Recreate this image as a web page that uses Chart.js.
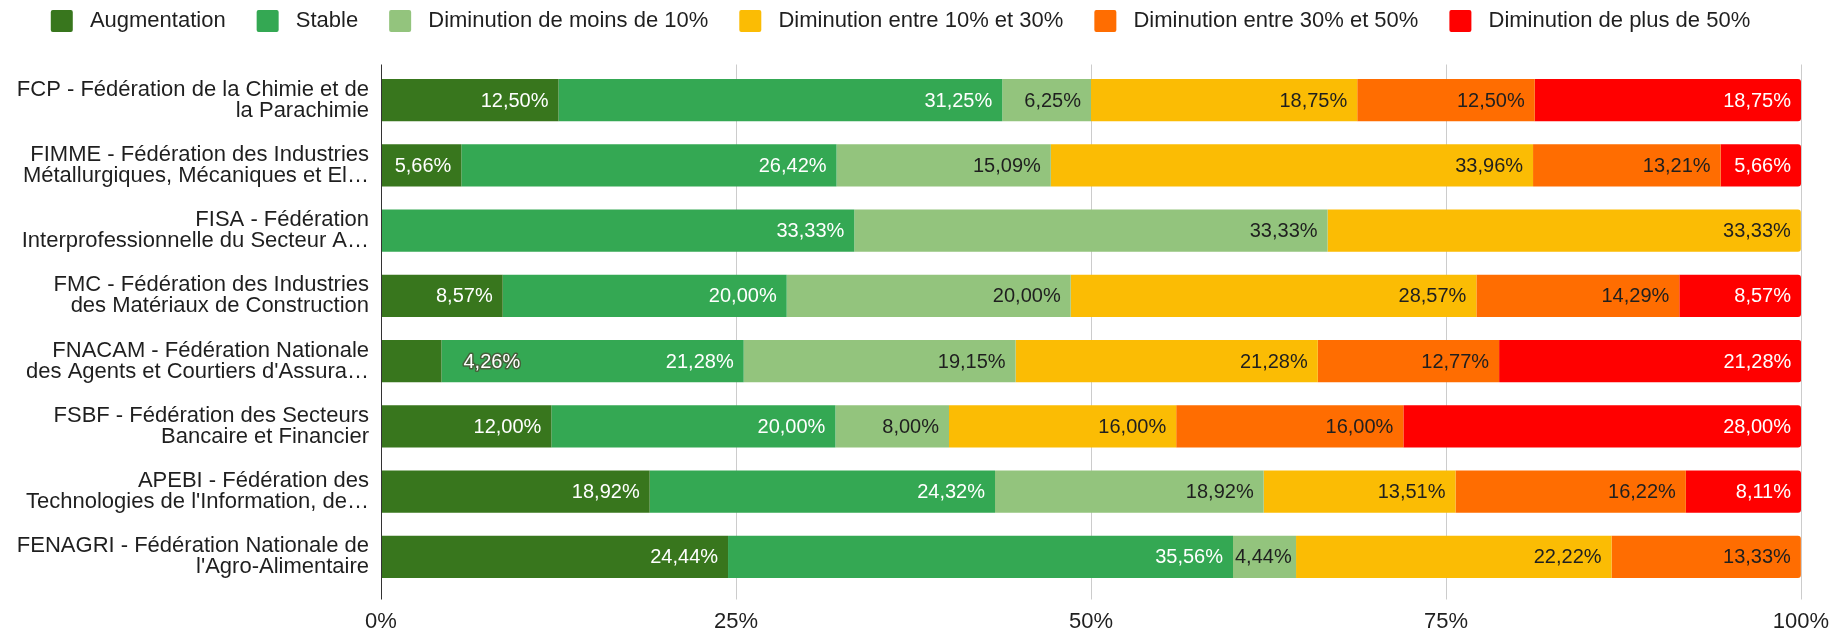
<!DOCTYPE html>
<html>
<head>
<meta charset="utf-8">
<script src="https://cdn.jsdelivr.net/npm/chart.js@4.4.1/dist/chart.umd.min.js"></script>
<style>
html,body{margin:0;padding:0;background:#fff;}
#wrap{width:1833px;height:630px;}
</style>
</head>
<body>
<div id="wrap"><canvas id="c" width="1833" height="630"></canvas></div>
<script>
const categories = [
  ["FCP - Fédération de la Chimie et de", "la Parachimie"],
  ["FIMME - Fédération des Industries", "Métallurgiques, Mécaniques et El…"],
  ["FISA - Fédération", "Interprofessionnelle du Secteur A…"],
  ["FMC - Fédération des Industries", "des Matériaux de Construction"],
  ["FNACAM - Fédération Nationale", "des Agents et Courtiers d'Assura…"],
  ["FSBF - Fédération des Secteurs", "Bancaire et Financier"],
  ["APEBI - Fédération des", "Technologies de l'Information, de…"],
  ["FENAGRI - Fédération Nationale de", "l'Agro-Alimentaire"]
];
const seriesNames = [
  "Augmentation", "Stable", "Diminution de moins de 10%",
  "Diminution entre 10% et 30%", "Diminution entre 30% et 50%", "Diminution de plus de 50%"
];
const augmentation = [12.50, 5.66, 0, 8.57, 4.26, 12.00, 18.92, 24.44];
const stable       = [31.25, 26.42, 33.33, 20.00, 21.28, 20.00, 24.32, 35.56];
const dimMoins10   = [6.25, 15.09, 33.33, 20.00, 19.15, 8.00, 18.92, 4.44];
const dim10a30     = [18.75, 33.96, 33.33, 28.57, 21.28, 16.00, 13.51, 22.22];
const dim30a50     = [12.50, 13.21, 0, 14.29, 12.77, 16.00, 16.22, 13.33];
const dimPlus50    = [18.75, 5.66, 0, 8.57, 21.28, 28.00, 8.11, 0];
const xTicks = ["0%", "25%", "50%", "75%", "100%"];

const colors = ["#38761d", "#34a853", "#93c47d", "#fbbc04", "#ff6d01", "#ff0000"];
const labelColors = ["#ffffff", "#ffffff", "#1f1f1f", "#1f1f1f", "#1f1f1f", "#ffffff"];
const allSeries = [augmentation, stable, dimMoins10, dim10a30, dim30a50, dimPlus50];

const FONT = "'Liberation Sans', Arial, sans-serif";

function lastIndexFor(i) {
  let last = -1;
  allSeries.forEach((s, k) => { if (s[i] > 0) last = k; });
  return last;
}

const datasets = allSeries.map((vals, k) => ({
  label: seriesNames[k],
  data: vals,
  backgroundColor: colors[k],
  borderWidth: 0,
  borderSkipped: false,
  borderRadius: (ctx) => {
    const i = ctx.dataIndex;
    if (i === undefined) return 0;
    return lastIndexFor(i) === k ? {topLeft:0,bottomLeft:0,topRight:3,bottomRight:3} : 0;
  },
  barPercentage: 0.65,
  categoryPercentage: 1.0
}));

const fmt = (v) => v.toFixed(2).replace('.', ',') + '%';

const gridPlugin = {
  id: 'extGrid',
  beforeDatasetsDraw(chart) {
    const {ctx, chartArea} = chart;
    const xs = chart.scales.x;
    ctx.save();
    ctx.lineWidth = 1;
    ctx.strokeStyle = '#cccccc';
    [25, 50, 75, 100].forEach(v => {
      const px = Math.round(xs.getPixelForValue(v)) + 0.5;
      ctx.beginPath();
      ctx.moveTo(px, chartArea.top - 3);
      ctx.lineTo(px, chartArea.bottom + 10);
      ctx.stroke();
    });
    ctx.restore();
  },
  afterDatasetsDraw(chart) {
    const {ctx, chartArea} = chart;
    const xs = chart.scales.x;
    const px = Math.round(xs.getPixelForValue(0)) + 0.5;
    ctx.save();
    ctx.lineWidth = 1;
    ctx.strokeStyle = '#333333';
    ctx.beginPath();
    ctx.moveTo(px, chartArea.top - 3);
    ctx.lineTo(px, chartArea.bottom + 10);
    ctx.stroke();
    ctx.restore();
  }
};

const labelPlugin = {
  id: 'barLabels',
  afterDatasetsDraw(chart) {
    const ctx = chart.ctx;
    ctx.save();
    ctx.font = "20px " + FONT;
    ctx.textBaseline = 'middle';
    chart.data.datasets.forEach((ds, k) => {
      const meta = chart.getDatasetMeta(k);
      meta.data.forEach((bar, i) => {
        const v = ds.data[i];
        if (!v) return;
        const txt = fmt(v);
        const w = ctx.measureText(txt).width;
        const barW = bar.x - bar.base;
        if (w + 4 > barW) {
          ctx.textAlign = 'left';
          ctx.lineWidth = 3;
          ctx.strokeStyle = '#44603a';
          ctx.lineJoin = 'round';
          ctx.strokeText(txt, bar.x + 22, bar.y + 1);
          ctx.fillStyle = '#ffffff';
          ctx.fillText(txt, bar.x + 22, bar.y + 1);
        } else {
          const pad = Math.min(10, barW - w - 2);
          ctx.textAlign = 'right';
          ctx.fillStyle = labelColors[k];
          ctx.fillText(txt, bar.x - pad, bar.y + 1);
        }
      });
    });
    ctx.restore();
  }
};

const legendHeight = {
  id: 'legendHeight',
  beforeInit(chart) {
    const orig = chart.legend.fit;
    chart.legend.fit = function () { orig.call(this); this.height = 88.5; };
  }
};

new Chart(document.getElementById('c'), {
  type: 'bar',
  data: { labels: categories, datasets },
  options: {
    indexAxis: 'y',
    responsive: false,
    animation: false,
    devicePixelRatio: 1,
    layout: { padding: { left: 0, right: 32, top: -21, bottom: 0 } },
    plugins: {
      legend: {
        position: 'top',
        align: 'center',
        labels: {
          font: { family: FONT, size: 22 },
          color: '#1f1f1f',
          boxWidth: 22,
          boxHeight: 22,
          useBorderRadius: true,
          borderRadius: 2,
          padding: 31,
          generateLabels: (chart) => {
            const items = Chart.defaults.plugins.legend.labels.generateLabels(chart);
            items.forEach(it => { it.text = ' ' + it.text; it.lineWidth = 0; });
            return items;
          }
        }
      },
      tooltip: { enabled: false }
    },
    scales: {
      x: {
        stacked: true,
        min: 0, max: 100,
        ticks: {
          stepSize: 25,
          callback: (v, idx) => xTicks[idx],
          font: { family: FONT, size: 22 },
          color: '#1f1f1f',
          padding: 19,
          maxRotation: 0
        },
        grid: { display: false, drawTicks: false },
        border: { display: false },
        afterFit: (s) => { s.height = 40.5; s.paddingLeft = 0; s.paddingRight = 0; }
      },
      y: {
        stacked: true,
        ticks: {
          font: { family: FONT, size: 22, lineHeight: '21px' },
          color: '#1f1f1f',
          padding: 12
        },
        grid: { display: false, drawTicks: false },
        border: { display: false },
        afterFit: (s) => { s.width = 381; }
      }
    }
  },
  plugins: [gridPlugin, labelPlugin, legendHeight]
});
</script>
</body>
</html>
